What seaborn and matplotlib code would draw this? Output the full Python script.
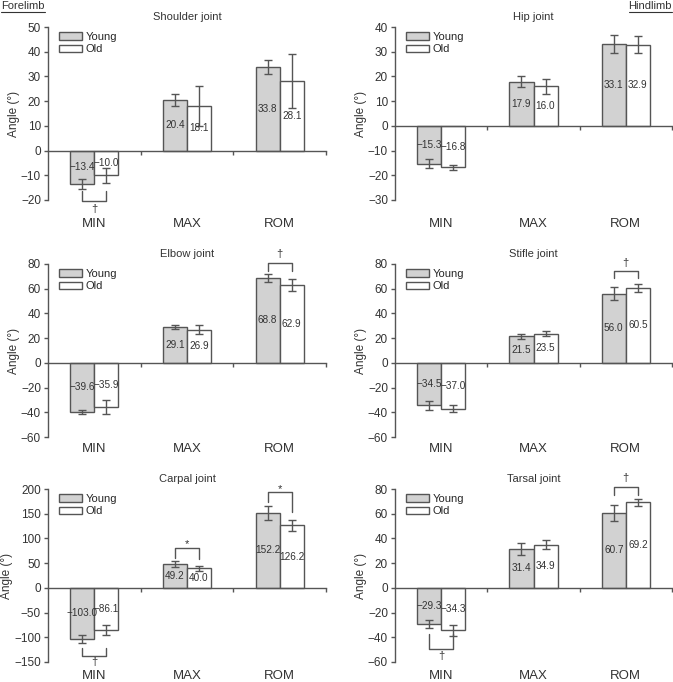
import numpy as np
import pandas as pd
import matplotlib.pyplot as plt
import matplotlib.transforms as mtransforms
from matplotlib.patches import Patch
from matplotlib.lines import Line2D
import seaborn as sns

# === Data (mean and SD, degrees) ===
measures = ["MIN", "MAX", "ROM"]
groups = ["Young", "Old"]
joints = ["Shoulder joint", "Hip joint", "Elbow joint", "Stifle joint", "Carpal joint", "Tarsal joint"]

young_mean = {
    "Shoulder joint": [-13.4, 20.4, 33.8],
    "Hip joint": [-15.3, 17.9, 33.1],
    "Elbow joint": [-39.6, 29.1, 68.8],
    "Stifle joint": [-34.5, 21.5, 56.0],
    "Carpal joint": [-103.0, 49.2, 152.2],
    "Tarsal joint": [-29.3, 31.4, 60.7],
}
old_mean = {
    "Shoulder joint": [-10.0, 18.1, 28.1],
    "Hip joint": [-16.8, 16.0, 32.9],
    "Elbow joint": [-35.9, 26.9, 62.9],
    "Stifle joint": [-37.0, 23.5, 60.5],
    "Carpal joint": [-86.1, 40.0, 126.2],
    "Tarsal joint": [-34.3, 34.9, 69.2],
}
young_sd = {
    "Shoulder joint": [2.0, 2.3, 3.0],
    "Hip joint": [1.9, 2.2, 3.8],
    "Elbow joint": [1.8, 1.3, 3.0],
    "Stifle joint": [3.8, 2.2, 5.0],
    "Carpal joint": [8.0, 6.0, 14.0],
    "Tarsal joint": [3.5, 4.5, 6.5],
}
old_sd = {
    "Shoulder joint": [3.0, 8.0, 11.0],
    "Hip joint": [0.9, 3.0, 3.5],
    "Elbow joint": [5.5, 3.5, 5.0],
    "Stifle joint": [3.0, 2.0, 3.0],
    "Carpal joint": [10.0, 5.0, 11.0],
    "Tarsal joint": [4.5, 3.5, 3.0],
}

# y-axis ranges (min, max, step)
y_ranges = {
    "Shoulder joint": (-20, 50, 10),
    "Hip joint": (-30, 40, 10),
    "Elbow joint": (-60, 80, 20),
    "Stifle joint": (-60, 80, 20),
    "Carpal joint": (-150, 200, 50),
    "Tarsal joint": (-60, 80, 20),
}

# significance marks: (joint, measure index, bracket y, tick end young, tick end old, symbol, symbol y)
sig_marks = [
    ("Shoulder joint", 0, -20.3, -16.5, -16.5, "\u2020", -23.5),
    ("Elbow joint", 2, 81, 74, 74, "\u2020", 88),
    ("Stifle joint", 2, 74, 69, 69, "\u2020", 80.5),
    ("Carpal joint", 0, -137, -122, -122, "\u2020", -151),
    ("Carpal joint", 1, 81, 61, 58, "*", 88),
    ("Carpal joint", 2, 193, 173, 153, "*", 200),
    ("Tarsal joint", 0, -49.5, -37.5, -37.5, "\u2020", -55),
    ("Tarsal joint", 2, 82, 75, 75, "\u2020", 89),
]

sns.set_style("ticks")
plt.rcParams["font.family"] = ["Liberation Sans", "DejaVu Sans"]
plt.rcParams["axes.unicode_minus"] = True

line_c = "#555555"
text_c = "#333333"
colors = {"Young": "#d2d2d2", "Old": "#ffffff"}

W, H = 673, 682
fig = plt.figure(figsize=(W / 100, H / 100), dpi=100)

row_tops = [27, 264, 489]
label_gap = [24, 12, 14]
col_lefts = [48, 395]
col_widths = [278, 277]
ax_h = 173

for k, joint in enumerate(joints):
    row, col = divmod(k, 2)
    rect = [col_lefts[col] / W, 1 - (row_tops[row] + ax_h) / H, col_widths[col] / W, ax_h / H]
    ax = fig.add_axes(rect)

    df = pd.DataFrame({
        "measure": measures * 2,
        "group": ["Young"] * 3 + ["Old"] * 3,
        "angle": young_mean[joint] + old_mean[joint],
    })
    sns.barplot(data=df, x="measure", y="angle", hue="group", order=measures,
                hue_order=groups, palette=colors, width=0.52, errorbar=None,
                edgecolor=line_c, linewidth=1.0, legend=False, ax=ax)

    # error bars and value labels at bar centres
    sds = [young_sd[joint], old_sd[joint]]
    means = [young_mean[joint], old_mean[joint]]
    bar_conts = list(ax.containers)
    centers = []
    for g, cont in enumerate(bar_conts):
        xs = [p.get_x() + p.get_width() / 2 for p in cont.patches]
        centers.append(xs)
        ax.errorbar(xs, means[g], yerr=sds[g], fmt="none", ecolor=line_c,
                    elinewidth=1.0, capsize=2.6, capthick=1.0, zorder=3)
        for x, v in zip(xs, means[g]):
            ax.text(x, v / 2, f"{v:.1f}".replace("-", "\u2212"), ha="center", va="center",
                    fontsize=7.2, color=text_c, zorder=4)

    ymin, ymax, step = y_ranges[joint]
    ax.set_ylim(ymin, ymax)
    ax.set_yticks(np.arange(ymin, ymax + step / 2, step))
    ax.set_xlim(-0.5, 2.5)
    ax.set_xticks([0.5, 1.5, 2.5])
    ax.set_xticklabels([])
    ax.spines["top"].set_visible(False)
    ax.spines["right"].set_visible(False)
    ax.spines["bottom"].set_position(("data", 0))
    for s in ["left", "bottom"]:
        ax.spines[s].set_color(line_c)
        ax.spines[s].set_linewidth(1.0)
    ax.tick_params(axis="y", direction="out", length=3, width=1, color=line_c,
                   labelsize=8.5, labelcolor=text_c, pad=2)
    ax.tick_params(axis="x", direction="out", length=3, width=1, color=line_c)
    ax.set_xlabel("")
    ax.set_ylabel("Angle (\u00b0)", fontsize=8.5, color=text_c, labelpad=1)
    ax.set_title(joint, fontsize=8, color=text_c, pad=5)

    # category labels below the axes
    trans = mtransforms.blended_transform_factory(ax.transData, ax.transAxes)
    for i, m in enumerate(measures):
        ax.text(i, -label_gap[row] / ax_h, m, transform=trans, ha="center", va="center",
                fontsize=9.5, color=text_c)

    handles = [Patch(facecolor=colors[g], edgecolor=line_c, linewidth=1.0, label=g) for g in groups]
    ax.legend(handles=handles, loc="upper left", frameon=False, fontsize=8,
              handlelength=2.05, handleheight=0.7, handletextpad=0.35, labelspacing=0.25,
              borderaxespad=0.2, borderpad=0.3, bbox_to_anchor=(0.02, 1.005))

    # significance brackets
    for (jn, mi, yb, yy, yo, sym, ys) in sig_marks:
        if jn != joint:
            continue
        x0, x1 = centers[0][mi], centers[1][mi]
        ax.plot([x0, x0, x1, x1], [yy, yb, yb, yo], color=line_c, lw=1.0, clip_on=False)
        ax.text((x0 + x1) / 2, ys, sym, ha="center", va="center", fontsize=8,
                color=text_c, clip_on=False)

# underlined limb labels
t1 = fig.text(1 / W, 1 - 1 / H, "Forelimb", ha="left", va="top", fontsize=8, color=text_c)
t2 = fig.text(1 - 1 / W, 1 - 1 / H, "Hindlimb", ha="right", va="top", fontsize=8, color=text_c)
fig.canvas.draw()
for t in (t1, t2):
    bb = t.get_window_extent()
    y = (bb.y0 - 0.5) / H
    fig.add_artist(Line2D([bb.x0 / W, bb.x1 / W], [y, y], color=text_c, lw=0.8))

fig.savefig("out.png", dpi=100)
